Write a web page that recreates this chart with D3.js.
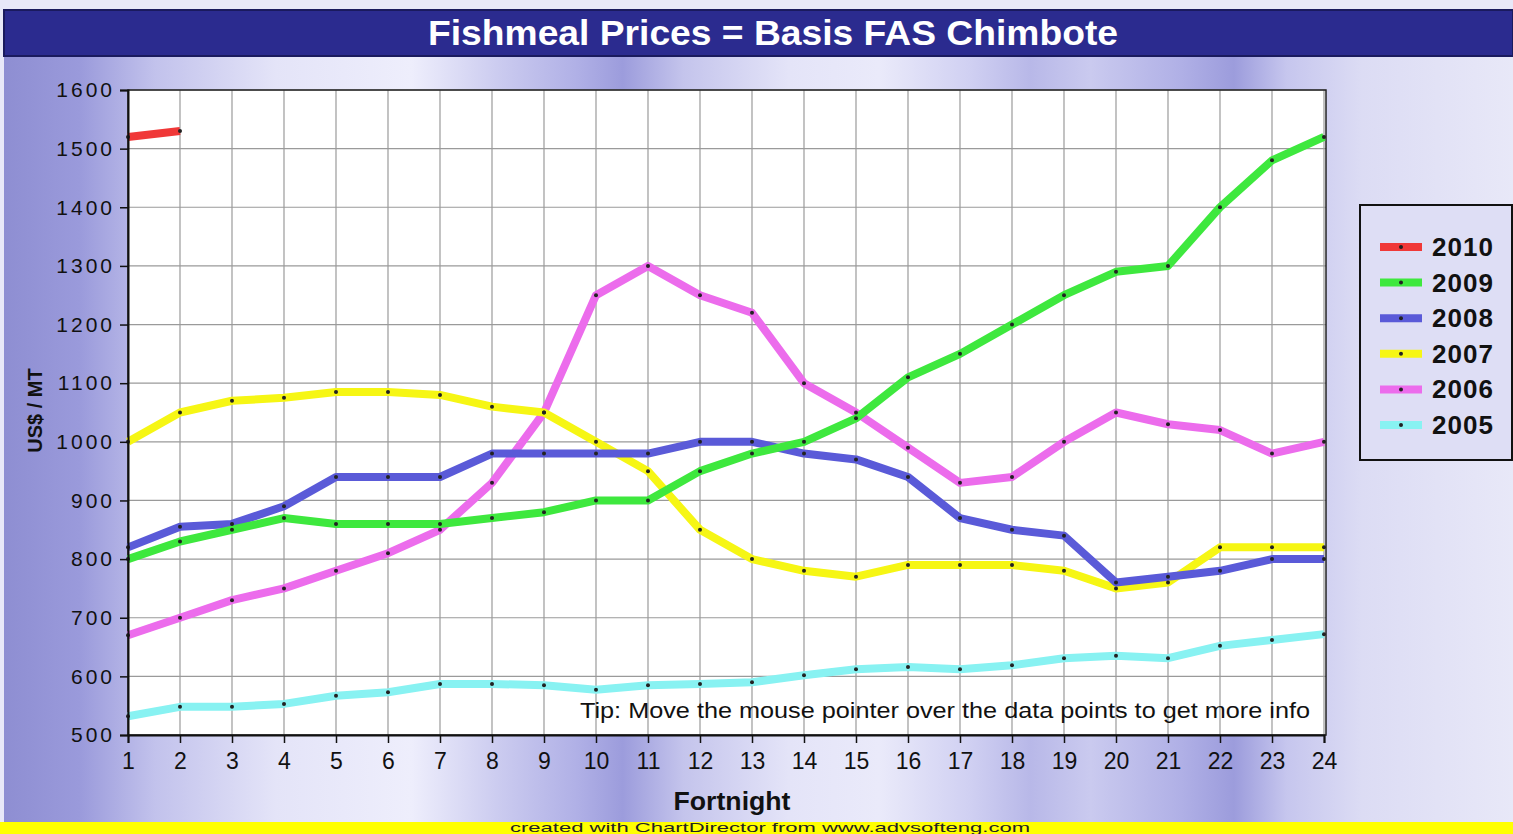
<!DOCTYPE html>
<html>
<head>
<meta charset="utf-8">
<script src="https://cdn.jsdelivr.net/npm/d3@7"></script>
<style>
  body { margin: 0; background: #fff; }
  svg { display: block; font-family: "Liberation Sans", Arial, sans-serif; }
</style>
</head>
<body>
<div id="chart"></div>
<script>
const svgWidth = 1513
const svgHeight = 834

// data
const fortnights = d3.range(1, 25)
const years = ["2010", "2009", "2008", "2007", "2006", "2005"]
const colors = ["#f03838", "#3ee83e", "#5a5ad8", "#f6f614", "#ec6cec", "#88f2f2"]
const prices2010 = [1520, 1530]
const prices2009 = [800, 830, 850, 870, 860, 860, 860, 870, 880, 900, 900, 950, 980, 1000, 1040, 1110, 1150, 1200, 1250, 1290, 1300, 1400, 1480, 1520]
const prices2008 = [820, 855, 860, 890, 940, 940, 940, 980, 980, 980, 980, 1000, 1000, 980, 970, 940, 870, 850, 840, 760, 770, 780, 800, 800]
const prices2007 = [1000, 1050, 1070, 1075, 1085, 1085, 1080, 1060, 1050, 1000, 950, 850, 800, 780, 770, 790, 790, 790, 780, 750, 760, 820, 820, 820]
const prices2006 = [670, 700, 730, 750, 780, 810, 850, 930, 1050, 1250, 1300, 1250, 1220, 1100, 1050, 990, 930, 940, 1000, 1050, 1030, 1020, 980, 1000]
const prices2005 = [532, 548, 548, 553, 567, 573, 587, 587, 585, 577, 585, 587, 590, 602, 612, 616, 612, 619, 631, 635, 631, 652, 662, 672]
const seriesValues = [prices2010, prices2009, prices2008, prices2007, prices2006, prices2005]
const yTicks = [500, 600, 700, 800, 900, 1000, 1100, 1200, 1300, 1400, 1500, 1600]

let margin = { top: 90, right: 187, bottom: 99, left: 128 }
let width = svgWidth - margin.left - margin.right
let height = svgHeight - margin.top - margin.bottom

let svg = d3.select("#chart").append("svg")
  .attr("width", svgWidth)
  .attr("height", svgHeight)

// background: lavender with vertical bands
let defs = svg.append("defs")
let bg = defs.append("linearGradient").attr("id", "bg")
  .attr("x1", "0%").attr("x2", "100%").attr("y1", "0%").attr("y2", "0%")
;[[0, "#8e8ed2"], [0.05, "#9a9adb"], [0.1, "#c2c2ec"], [0.18, "#e4e4f8"], [0.27, "#eeeefc"],
  [0.33, "#cacaef"], [0.38, "#b0b0e6"], [0.41, "#9c9cdc"], [0.45, "#c4c4ec"], [0.52, "#e4e4f8"],
  [0.58, "#eaeafa"], [0.64, "#d0d0f2"], [0.68, "#b8b8e8"], [0.72, "#cacaef"], [0.78, "#b0b0e6"],
  [0.815, "#9c9cdc"], [0.85, "#c6c6ee"], [0.9, "#dcdcf4"], [1, "#e8e8f8"]]
  .forEach(s => bg.append("stop").attr("offset", s[0]).attr("stop-color", s[1]))

svg.append("rect").attr("width", svgWidth).attr("height", svgHeight).attr("fill", "#e8e8f8")
svg.append("rect").attr("x", 4).attr("y", 10).attr("width", svgWidth - 4).attr("height", 812)
  .attr("fill", "url(#bg)")

// title bar
svg.append("rect").attr("x", 4).attr("y", 10).attr("width", svgWidth - 4).attr("height", 46)
  .attr("fill", "#2b2b8f").attr("stroke", "#1a1a5e").attr("stroke-width", 2)
svg.append("text")
  .attr("x", 773).attr("y", 45)
  .attr("text-anchor", "middle")
  .attr("fill", "#fff")
  .attr("textLength", 690).attr("lengthAdjust", "spacingAndGlyphs")
  .style("font-size", "35px").style("font-weight", "bold")
  .text("Fishmeal Prices = Basis FAS Chimbote")

// footer
svg.append("rect").attr("x", 0).attr("y", 822).attr("width", svgWidth).attr("height", 12).attr("fill", "#ffff00")
svg.append("text")
  .attr("x", 770).attr("y", 832)
  .attr("text-anchor", "middle")
  .attr("textLength", 520).attr("lengthAdjust", "spacingAndGlyphs")
  .style("font-size", "13px").attr("fill", "#222")
  .text("created with ChartDirector from www.advsofteng.com")

let chartGroup = svg.append("g")
  .attr("transform", `translate(${margin.left}, ${margin.top})`)

let xLinearScale = d3.scaleLinear().domain([1, 24]).range([0, width - 2])
let yLinearScale = d3.scaleLinear().domain([500, 1600]).range([height, 0])

chartGroup.append("rect").attr("width", width).attr("height", height).attr("fill", "#fff")

// grid
chartGroup.append("g").selectAll("line").data(fortnights).enter().append("line")
  .attr("x1", d => xLinearScale(d)).attr("x2", d => xLinearScale(d))
  .attr("y1", 0).attr("y2", height)
  .attr("stroke", "#9a9a9a").attr("stroke-width", 1.2)
chartGroup.append("g").selectAll("line").data(yTicks).enter().append("line")
  .attr("x1", 0).attr("x2", width)
  .attr("y1", d => yLinearScale(d)).attr("y2", d => yLinearScale(d))
  .attr("stroke", "#9a9a9a").attr("stroke-width", 1.2)

// border of plot area
chartGroup.append("rect").attr("width", width).attr("height", height)
  .attr("fill", "none").attr("stroke", "#222").attr("stroke-width", 1.5)

// tip text
chartGroup.append("text")
  .attr("x", width - 16).attr("y", height - 17)
  .attr("text-anchor", "end")
  .attr("textLength", 730).attr("lengthAdjust", "spacingAndGlyphs")
  .style("font-size", "22px").attr("fill", "#111")
  .text("Tip: Move the mouse pointer over the data points to get more info")

// lines, oldest first so 2010 ends on top
let line = d3.line()
  .x((d, i) => xLinearScale(fortnights[i]))
  .y(d => yLinearScale(d))

let seriesData = years.map((y, k) => ({ year: y, color: colors[k], values: seriesValues[k] })).reverse()

seriesData.forEach(s => {
  chartGroup.append("path")
    .datum(s.values)
    .attr("d", line)
    .attr("fill", "none")
    .attr("stroke", s.color)
    .attr("stroke-width", 8)
    .attr("stroke-linejoin", "round")
})
seriesData.forEach(s => {
  chartGroup.append("g").selectAll("circle").data(s.values).enter().append("circle")
    .attr("cx", (d, i) => xLinearScale(fortnights[i]))
    .attr("cy", d => yLinearScale(d))
    .attr("r", 2)
    .attr("fill", "#222")
})

// axes
let leftAxis = d3.axisLeft(yLinearScale).tickValues(yTicks).tickSize(8).tickPadding(5).tickFormat(d3.format("d"))
let yAxis = chartGroup.append("g").call(leftAxis)
let bottomAxis = d3.axisBottom(xLinearScale).tickValues(fortnights).tickSize(8).tickPadding(10)
let xAxis = chartGroup.append("g").attr("transform", `translate(0, ${height})`).call(bottomAxis)

;[yAxis, xAxis].forEach(ax => {
  ax.select(".domain").attr("stroke", "#111").attr("stroke-width", 2)
  ax.selectAll(".tick line").attr("stroke", "#111").attr("stroke-width", 1.5)
  ax.selectAll("text").style("font-family", "'Liberation Sans', Arial, sans-serif").attr("fill", "#111")
})
yAxis.selectAll("text").style("font-size", "21px").style("letter-spacing", "3px")
xAxis.selectAll("text").style("font-size", "23px")

chartGroup.append("text")
  .attr("x", 604).attr("y", height + 75)
  .attr("text-anchor", "middle")
  .attr("textLength", 117).attr("lengthAdjust", "spacingAndGlyphs")
  .style("font-size", "25px").style("font-weight", "bold").attr("fill", "#111")
  .text("Fortnight")

chartGroup.append("text")
  .attr("transform", `translate(-86, ${height / 2 - 2}) rotate(-90)`)
  .attr("text-anchor", "middle")
  .style("font-size", "20px").style("font-weight", "bold").attr("fill", "#111")
  .text("US$ / MT")

// legend
let legend = svg.append("g").attr("transform", "translate(1360, 205)")
legend.append("rect").attr("width", 152).attr("height", 255)
  .attr("fill", "#dedef5").attr("stroke", "#111").attr("stroke-width", 2)
years.forEach((y, k) => {
  let ly = 42 + k * 35.6
  legend.append("line").attr("x1", 20).attr("x2", 62).attr("y1", ly).attr("y2", ly)
    .attr("stroke", colors[k]).attr("stroke-width", 8)
  legend.append("circle").attr("cx", 41).attr("cy", ly).attr("r", 2).attr("fill", "#222")
  legend.append("text").attr("x", 72).attr("y", ly + 9)
    .style("font-size", "26px").style("font-weight", "bold").style("letter-spacing", "1px").attr("fill", "#111")
    .text(y)
})
</script>
</body>
</html>
